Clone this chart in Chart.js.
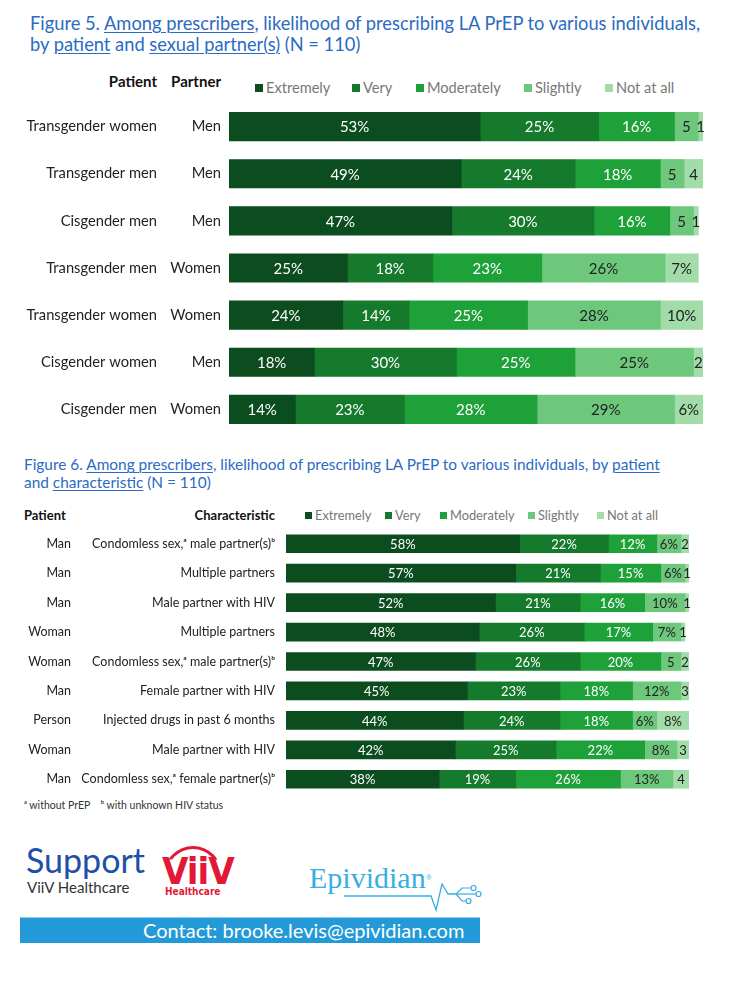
<!DOCTYPE html>
<html>
<head>
<meta charset="utf-8">
<script src="https://cdn.jsdelivr.net/npm/chart.js@4.4.1/dist/chart.umd.min.js"></script>
<style>
  html,body{margin:0;padding:0;background:#fff;}
  body{width:740px;height:985px;position:relative;overflow:hidden;font-family:Lato,"Open Sans",sans-serif;}
  .a{position:absolute;white-space:nowrap;}
  .t{color:#2b6bc3;}
  .u{text-decoration:underline;text-decoration-thickness:1px;text-underline-offset:2px;}
  .hdr{font-weight:bold;color:#111;}
  .lg{color:#777;}
  .sq{position:absolute;display:block;}
  canvas{position:absolute;left:0;}
</style>
</head>
<body>
<!-- Figure 5 title -->
<div class="a t" style="left:30px;top:13px;font-size:18.3px;line-height:21px;">
Figure 5. <span class="u">Among prescribers</span>, likelihood of prescribing LA PrEP to various individuals,<br>
by <span class="u">patient</span> and <span class="u">sexual partner(s)</span> (N = 110)
</div>
<div class="a hdr" style="right:583px;top:71px;font-size:15px;line-height:20px;">Patient</div>
<div class="a hdr" style="right:519px;top:71px;font-size:15px;line-height:20px;">Partner</div>
<div id="legend5"></div>

<canvas id="c5" width="740" height="330" style="top:103px;"></canvas>

<!-- Figure 6 title -->
<div class="a t" style="left:24px;top:455px;font-size:15.4px;line-height:18px;">
Figure 6. <span class="u">Among prescribers</span>, likelihood of prescribing LA PrEP to various individuals, by <span class="u">patient</span><br>
and <span class="u">characteristic</span> (N = 110)
</div>
<div class="a hdr" style="left:24px;top:506px;font-size:13px;line-height:18px;">Patient</div>
<div class="a hdr" style="right:465px;top:506px;font-size:13px;line-height:18px;">Characteristic</div>
<div id="legend6"></div>

<canvas id="c6" width="740" height="265" style="top:529px;"></canvas>

<div class="a" style="left:24px;top:798px;font-size:10.5px;line-height:14px;color:#333;">ᵃ without PrEP&nbsp;&nbsp;&nbsp;&nbsp;ᵇ with unknown HIV status</div>

<!-- Support block -->
<div class="a" style="left:26px;top:841px;font-size:34px;line-height:38px;color:#1f4fa6;">Support</div>
<div class="a" style="left:27px;top:878px;font-size:15px;line-height:18px;color:#333;">ViiV Healthcare</div>
<!-- ViiV logo -->
<div class="a" style="left:164px;top:846px;width:58px;height:34px;border:3px solid #e31837;border-bottom:none;border-radius:30px 30px 0 0;box-sizing:border-box;clip-path:inset(0 0 60% 0);"></div>
<div class="a" style="left:162px;top:851px;font-family:'Liberation Sans Narrow','DejaVu Sans Condensed',sans-serif;font-weight:bold;font-size:38px;line-height:40px;color:#e31837;letter-spacing:-1px;">ViiV</div>
<div class="a" style="left:165px;top:886px;font-family:'Liberation Sans Narrow','DejaVu Sans Condensed',sans-serif;font-weight:bold;font-size:10px;line-height:12px;color:#e31837;">Healthcare</div>
<!-- Epividian logo -->
<div class="a" style="left:309px;top:860px;font-family:'Liberation Serif','DejaVu Serif',serif;font-size:30px;line-height:36px;color:#38aee3;">Epividian<span style="font-size:8px;vertical-align:top;">®</span></div>
<svg class="a" style="left:330px;top:860px;" width="160" height="60" viewBox="0 0 160 60">
  <polyline points="14,36 101,36 106,50 112,24 118,34 126,34" fill="none" stroke="#38aee3" stroke-width="1.3"/>
  <polyline points="126,34 132,28 141,28" fill="none" stroke="#38aee3" stroke-width="1.2"/>
  <polyline points="126,34 146,34" fill="none" stroke="#38aee3" stroke-width="1.2"/>
  <polyline points="126,34 132,41 136,41" fill="none" stroke="#38aee3" stroke-width="1.2"/>
  <circle cx="143.5" cy="28" r="2.5" fill="#fff" stroke="#38aee3" stroke-width="1.2"/>
  <circle cx="148.5" cy="34" r="2.5" fill="#fff" stroke="#38aee3" stroke-width="1.2"/>
  <circle cx="138.5" cy="41" r="2.5" fill="#fff" stroke="#38aee3" stroke-width="1.2"/>
</svg>
<!-- Contact bar -->
<div class="a" style="left:20px;top:917px;width:460px;height:26px;background:#239ad7;border-top:1px solid #8fd0f0;box-sizing:border-box;"></div>
<div class="a" style="left:143px;top:917px;font-size:20px;line-height:26px;color:#fff;">Contact: brooke.levis@epividian.com</div>

<script>
// ---- data ----
const levels = ["Extremely", "Very", "Moderately", "Slightly", "Not at all"];

const fig5Patients = ["Transgender women", "Transgender men", "Cisgender men", "Transgender men", "Transgender women", "Cisgender women", "Cisgender men"];
const fig5Partners = ["Men", "Men", "Men", "Women", "Women", "Men", "Women"];
const fig5Extremely  = [53, 49, 47, 25, 24, 18, 14];
const fig5Very       = [25, 24, 30, 18, 14, 30, 23];
const fig5Moderately = [16, 18, 16, 23, 25, 25, 28];
const fig5Slightly   = [5, 5, 5, 26, 28, 25, 29];
const fig5NotAtAll   = [1, 4, 1, 7, 10, 2, 6];

const fig6Patients = ["Man", "Man", "Man", "Woman", "Woman", "Man", "Person", "Woman", "Man"];
const fig6Characteristics = [
  "Condomless sex,ᵃ male partner(s)ᵇ",
  "Multiple partners",
  "Male partner with HIV",
  "Multiple partners",
  "Condomless sex,ᵃ male partner(s)ᵇ",
  "Female partner with HIV",
  "Injected drugs in past 6 months",
  "Male partner with HIV",
  "Condomless sex,ᵃ female partner(s)ᵇ"
];
const fig6Extremely  = [58, 57, 52, 48, 47, 45, 44, 42, 38];
const fig6Very       = [22, 21, 21, 26, 26, 23, 24, 25, 19];
const fig6Moderately = [12, 15, 16, 17, 20, 18, 18, 22, 26];
const fig6Slightly   = [6, 6, 10, 7, 5, 12, 6, 8, 13];
const fig6NotAtAll   = [2, 1, 1, 1, 2, 3, 8, 3, 4];

// ---- styles ----
const levelColors = ["#0b4d1e", "#167a2c", "#1fa13a", "#6dc87c", "#a1dca9"];
const labelColors = ["#ffffff", "#ffffff", "#ffffff", "#222222", "#222222"];

function buildLegend(id, xs, top, size, sq, gap, fontSize) {
  const host = document.getElementById(id);
  levels.forEach((name, k) => {
    const s = document.createElement('span');
    s.className = 'sq';
    s.style.left = xs[k] + 'px';
    s.style.top = (top - sq / 2) + 'px';
    s.style.width = sq + 'px';
    s.style.height = sq + 'px';
    s.style.background = levelColors[k];
    host.appendChild(s);
    const t = document.createElement('div');
    t.className = 'a lg';
    t.textContent = name;
    t.style.left = (xs[k] + sq + gap) + 'px';
    t.style.top = (top - size / 2) + 'px';
    t.style.fontSize = fontSize + 'px';
    t.style.lineHeight = size + 'px';
    host.appendChild(t);
  });
}
buildLegend('legend5', [255, 352, 416, 524, 605], 88, 20, 8, 3, 14.6);
buildLegend('legend6', [305, 385, 440, 528, 597], 515, 18, 7, 3, 12.8);

const valueLabels = {
  id: 'valueLabels',
  afterDatasetsDraw(chart, args, opts) {
    const ctx = chart.ctx;
    ctx.save();
    ctx.font = opts.font;
    ctx.textAlign = 'center';
    ctx.textBaseline = 'middle';
    chart.data.datasets.forEach((ds, di) => {
      const meta = chart.getDatasetMeta(di);
      meta.data.forEach((bar, i) => {
        const v = ds.data[i];
        const txt = v >= 6 ? v + '%' : String(v);
        const p = bar.getProps(['x', 'base', 'y'], true);
        const right = Math.min(p.x, chart.chartArea.right);
        ctx.fillStyle = labelColors[di];
        ctx.fillText(txt, (right + p.base) / 2, p.y + 1);
      });
    });
    ctx.restore();
  }
};

function buildChart(id, inner, outer, series, o) {
  new Chart(document.getElementById(id), {
    type: 'bar',
    data: {
      labels: inner,
      datasets: levels.map((name, k) => ({
        label: name,
        data: series[k],
        backgroundColor: levelColors[k],
        borderWidth: 0,
        barThickness: o.bar,
        yAxisID: 'y'
      }))
    },
    options: {
      indexAxis: 'y',
      responsive: false,
      animation: false,
      events: [],
      layout: { padding: { left: 0, right: o.padRight, top: 0, bottom: 0 } },
      plugins: { legend: { display: false }, tooltip: { enabled: false }, valueLabels: { font: o.valFont } },
      scales: {
        x: { stacked: true, min: 0, max: 100, display: false },
        y: {
          stacked: true, position: 'left', weight: 0,
          grid: { display: false, drawTicks: false }, border: { display: false },
          ticks: { padding: o.innerPad, color: '#222', font: o.tickFont, autoSkip: false },
          afterFit: s => { s.width = o.innerW; s.paddingTop = 0; s.paddingBottom = 0; }
        },
        y2: {
          type: 'category', labels: outer, position: 'left', weight: 1, offset: true,
          grid: { display: false, drawTicks: false }, border: { display: false },
          ticks: { padding: o.outerPad, color: '#222', font: o.tickFont, autoSkip: false },
          afterFit: s => { s.width = o.outerW; s.paddingTop = 0; s.paddingBottom = 0; }
        }
      }
    },
    plugins: [valueLabels]
  });
}

buildChart('c5', fig5Partners, fig5Patients,
  [fig5Extremely, fig5Very, fig5Moderately, fig5Slightly, fig5NotAtAll],
  { bar: 28.5, padRight: 37, innerW: 64, outerW: 165, innerPad: 8, outerPad: 8,
    tickFont: { family: 'Lato', size: 14.7 }, valFont: '15px Lato' });

buildChart('c6', fig6Characteristics, fig6Patients,
  [fig6Extremely, fig6Very, fig6Moderately, fig6Slightly, fig6NotAtAll],
  { bar: 18, padRight: 51, innerW: 206, outerW: 80, innerPad: 11, outerPad: 9,
    tickFont: { family: 'Lato', size: 12.5 }, valFont: '13px Lato' });
</script>
</body>
</html>
